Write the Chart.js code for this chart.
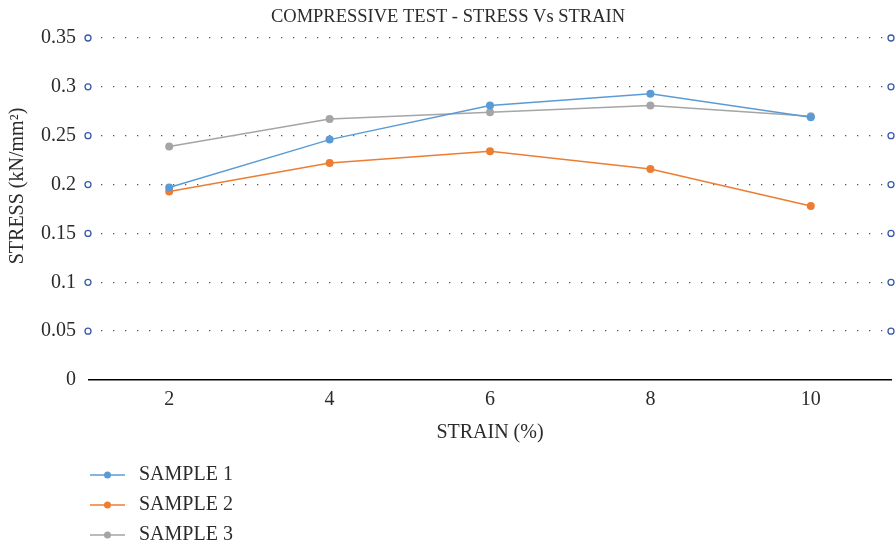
<!DOCTYPE html>
<html>
<head>
<meta charset="utf-8">
<script src="https://cdn.jsdelivr.net/npm/chart.js@4"></script>
<style>
  html, body { margin: 0; padding: 0; background: #fff; }
  #wrap { width: 896px; height: 550px; }
</style>
</head>
<body>
<div id="wrap"><canvas id="stressChart"></canvas></div>
<script>
const strainLabels = ['2', '4', '6', '8', '10'];
const sample1 = [0.197, 0.246, 0.281, 0.293, 0.269];
const sample2 = [0.193, 0.222, 0.234, 0.216, 0.178];
const sample3 = [0.239, 0.267, 0.274, 0.281, 0.270];
const seriesNames = ['SAMPLE 1', 'SAMPLE 2', 'SAMPLE 3'];
const seriesColors = ['#5b9bd5', '#ed7d31', '#a5a5a5'];

const FONT = '"Liberation Serif", "DejaVu Serif", serif';
const TEXT = '#2b2b2b';

// title, y title, end circles on the gridlines and the legend are drawn by hand
const decorations = {
    id: 'decorations',
    afterDraw(chart) {
        const { ctx, chartArea, scales } = chart;
        ctx.save();
        ctx.fillStyle = TEXT;
        ctx.font = '18.5px ' + FONT;
        ctx.textAlign = 'center';
        ctx.textBaseline = 'middle';
        ctx.fillText('COMPRESSIVE TEST - STRESS Vs STRAIN', 448, 17);

        ctx.save();
        ctx.font = '20px ' + FONT;
        ctx.translate(18, 186);
        ctx.rotate(-Math.PI / 2);
        ctx.fillText('STRESS (kN/mm²)', 0, 0);
        ctx.restore();

        ctx.strokeStyle = '#3a5aa8';
        ctx.lineWidth = 1.3;
        scales.y.ticks.forEach(t => {
            if (t.value === 0) return;
            const y = scales.y.getPixelForValue(t.value);
            [chartArea.left - 1, chartArea.right].forEach(x => {
                ctx.beginPath();
                ctx.arc(x, y, 3, 0, Math.PI * 2);
                ctx.fillStyle = '#fff';
                ctx.fill();
                ctx.stroke();
            });
        });

        ctx.font = '20px ' + FONT;
        chart.data.datasets.forEach((ds, i) => {
            const y = 475 + i * 30;
            ctx.strokeStyle = ds.borderColor;
            ctx.lineWidth = 1.5;
            ctx.beginPath();
            ctx.moveTo(90, y);
            ctx.lineTo(125, y);
            ctx.stroke();
            ctx.fillStyle = ds.borderColor;
            ctx.beginPath();
            ctx.arc(107.5, y, 3.5, 0, Math.PI * 2);
            ctx.fill();
            ctx.fillStyle = TEXT;
            ctx.textAlign = 'left';
            ctx.fillText(ds.label, 139, y);
        });
        ctx.restore();
    }
};

const datasets = [sample1, sample2, sample3].map((vals, i) => ({
    label: seriesNames[i],
    data: vals,
    borderColor: seriesColors[i],
    backgroundColor: seriesColors[i],
    borderWidth: 1.5,
    pointRadius: 4,
    pointBorderWidth: 0,
    pointHoverRadius: 4,
    tension: 0,
}));

new Chart(document.getElementById('stressChart'), {
    type: 'line',
    data: { labels: strainLabels, datasets: datasets },
    options: {
        responsive: true,
        maintainAspectRatio: false,
        animation: false,
        layout: { padding: { top: 38, right: 5, bottom: 105, left: 0 } },
        plugins: {
            legend: { display: false },
            title: { display: false },
            tooltip: { enabled: false },
        },
        scales: {
            x: {
                offset: true,
                grid: { display: false, drawTicks: false },
                border: { display: true, color: '#000', width: 1.5 },
                ticks: { color: TEXT, font: { family: FONT, size: 20 }, padding: 8 },
                title: {
                    display: true,
                    text: 'STRAIN (%)',
                    color: TEXT,
                    font: { family: FONT, size: 20 },
                    padding: { top: 2, bottom: 0 },
                },
                afterFit: scale => { scale.height = 65; },
            },
            y: {
                min: 0,
                max: 0.35,
                ticks: {
                    stepSize: 0.05,
                    color: TEXT,
                    font: { family: FONT, size: 20 },
                    padding: 13,
                    callback: v => String(Math.round(v * 100) / 100),
                },
                grid: {
                    drawTicks: false,
                    color: ctx => ctx.tick && ctx.tick.value === 0 ? 'rgba(0,0,0,0)' : '#555',
                    lineWidth: 1.3,
                },
                border: { display: false, dash: [1.3, 10.7] },
                title: { display: false },
                afterFit: scale => { scale.width = 89; },
            },
        },
    },
    plugins: [decorations],
});
</script>
</body>
</html>
